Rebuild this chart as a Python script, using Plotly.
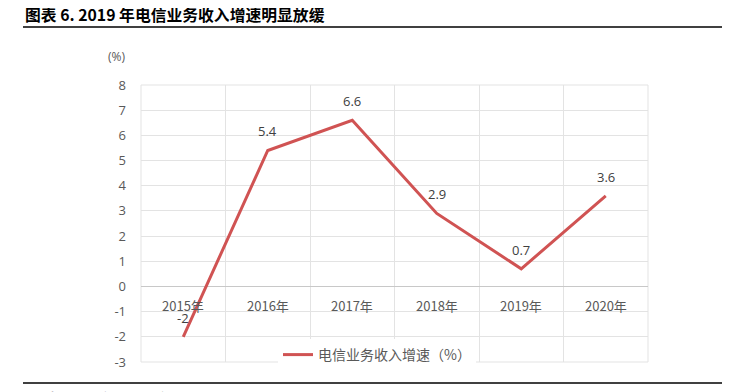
import plotly.graph_objects as go

categories = ["2015年", "2016年", "2017年", "2018年", "2019年", "2020年"]
growth = [-2, 5.4, 6.6, 2.9, 0.7, 3.6]
label_text = ["-2", "5.4", "6.6", "2.9", "0.7", "3.6"]
y_ticks = [-3, -2, -1, 0, 1, 2, 3, 4, 5, 6, 7, 8]
y_tick_text = ["-3", "-2", "-1", "0", "1", "2", "3", "4", "5", "6", "7", "8"]
series_name = "电信业务收入增速（%）"
title_text = "图表 6. 2019 年电信业务收入增速明显放缓"
source_text = "资料来源：工信部，中银证券"

# page body has an 8px margin; lay out in window coordinates then subtract it
OFF = 8
WIN_W, WIN_H = 736, 392
W, H = WIN_W - OFF, WIN_H - OFF
PL, PR, PT, PB = 141, 648, 85, 362  # plot area in window pixels
L, R, T, B = PL - OFF, W - (PR - OFF), PT - OFF, H - (PB - OFF)
pw, ph = PR - PL, PB - PT


def px(xw):
    return (xw - PL) / pw


def py(yw):
    return (PB - yw) / ph


fig = go.Figure()
fig.add_trace(go.Scatter(
    x=categories, y=growth, mode="lines", name=series_name,
    line=dict(color="#D05353", width=3),
))

annotations = []
for c, v, t in zip(categories, growth, label_text):
    annotations.append(dict(
        x=c, y=v, xref="x", yref="y", text=t, showarrow=False,
        yanchor="middle", yshift=19,
        font=dict(family="Open Sans, Noto Sans", size=13, color="#404040"),
    ))
for c in categories:
    annotations.append(dict(
        x=c, y=0, xref="x", yref="y", text=c, showarrow=False,
        yanchor="middle", yshift=-19,
        font=dict(family="Noto Sans CJK SC", size=13, color="#595959"),
    ))
annotations.append(dict(
    x=px(23), y=py(15), xref="paper", yref="paper", xanchor="left", yanchor="middle",
    text="<b>" + title_text + "</b>", showarrow=False,
    font=dict(family="Noto Sans CJK SC", size=15.8, color="#000000"),
))
annotations.append(dict(
    x=px(116), y=py(57), xref="paper", yref="paper",
    xanchor="center", yanchor="middle", text="(%)", showarrow=False,
    font=dict(family="Open Sans, Noto Sans", size=12, color="#595959"),
))
annotations.append(dict(
    x=px(23), y=py(387), xref="paper", yref="paper", xanchor="left", yanchor="top",
    text="<b>" + source_text + "</b>", showarrow=False,
    font=dict(family="Noto Sans CJK SC", size=11, color="#000000"),
))

shapes = [
    dict(type="line", xref="paper", yref="paper", x0=px(23), x1=px(722),
         y0=py(27), y1=py(27), line=dict(color="#404040", width=2)),
    dict(type="line", xref="paper", yref="paper", x0=px(23), x1=px(722),
         y0=py(383), y1=py(383), line=dict(color="#404040", width=2)),
    dict(type="rect", xref="paper", yref="paper", x0=0, x1=1, y0=0, y1=1,
         line=dict(color="#E3E3E3", width=1), layer="below"),
]

fig.update_layout(
    width=W, height=H,
    margin=dict(l=L, r=R, t=T, b=B, pad=0),
    paper_bgcolor="white", plot_bgcolor="white",
    showlegend=True,
    legend=dict(orientation="h", x=px(377), xanchor="center",
                y=py(355), yanchor="middle", bgcolor="white",
                font=dict(family="Noto Sans CJK SC", size=14, color="#595959"),
                itemwidth=30),
    xaxis=dict(type="category", showticklabels=False, ticks="", showgrid=True,
               tickson="boundaries", gridcolor="#E3E3E3", gridwidth=1,
               zeroline=False, showline=False, range=[-0.5, 5.5]),
    yaxis=dict(range=[-3, 8], tickvals=y_ticks, ticktext=y_tick_text, showgrid=True,
               gridcolor="#E3E3E3", gridwidth=1, zeroline=True, zerolinecolor="#C8C8C8",
               zerolinewidth=1, showline=False, ticks="", ticklen=0,
               tickfont=dict(family="Open Sans, Noto Sans", size=13, color="#595959"),
               ticklabelstandoff=14),
    annotations=annotations,
    shapes=shapes,
)

fig.write_html("out.html")
